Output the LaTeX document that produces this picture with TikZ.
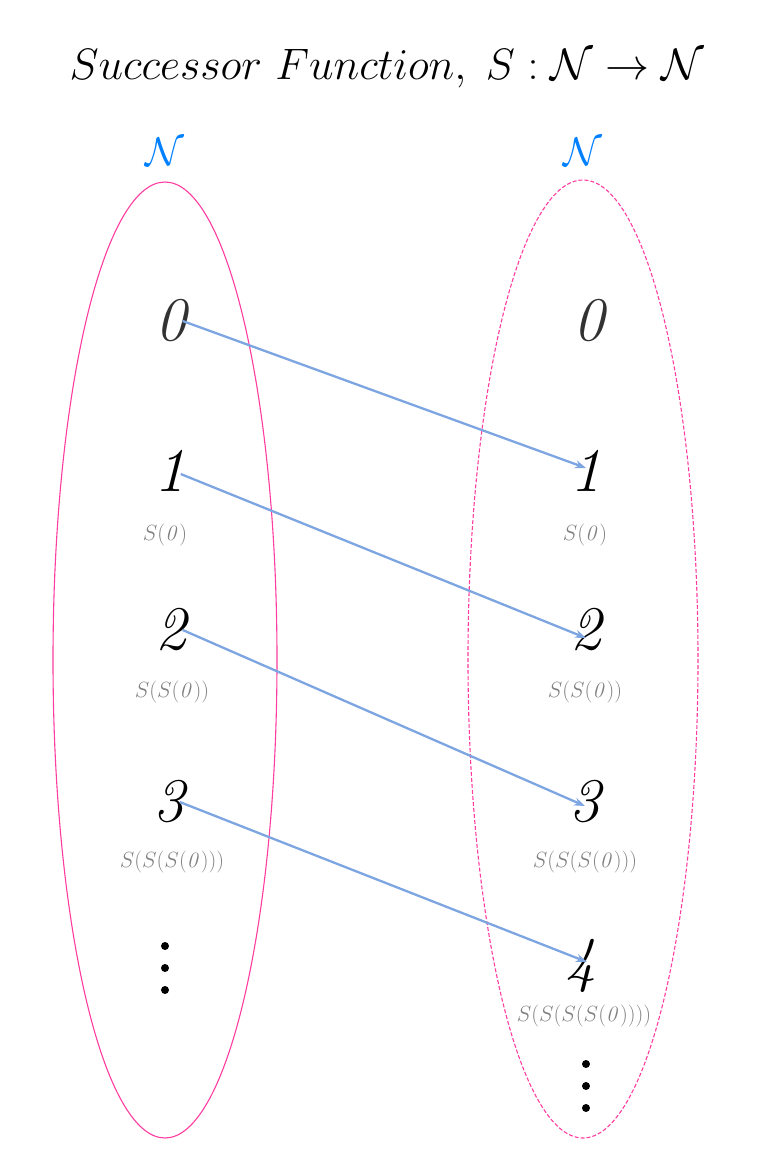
\RequirePackage{fix-cm}
\documentclass[tikz,border=0pt]{standalone}
\usetikzlibrary{arrows.meta}
\definecolor{pinkline}{RGB}{255,60,160}
\definecolor{arrowblue}{RGB}{125,165,225}
\definecolor{setblue}{RGB}{0,128,255}
\definecolor{labelgray}{RGB}{128,128,128}
\definecolor{zerogray}{RGB}{50,50,50}
\begin{document}
\begin{tikzpicture}[x=1pt,y=-1pt,
  num/.style={inner sep=0pt,font=\fontsize{62}{62}\selectfont\itshape},
  lbl/.style={inner sep=0pt,text=labelgray,font=\fontsize{22}{22}\selectfont},
  setname/.style={inner sep=0pt,text=setblue,font=\fontsize{40}{40}\selectfont},
  mapsto/.style={draw=arrowblue,line width=2.3pt,-{Stealth[length=11pt,width=8pt]}},
  dotmark/.style={fill=black,circle,inner sep=0pt,minimum size=8pt}]
\useasboundingbox (0,0) rectangle (768,1176);
% title
\node[inner sep=0pt,font=\fontsize{44}{44}\selectfont] (title) at (387,69) {$Successor\ Function,\;S:\mathcal{N}\to\mathcal{N}$};
% set names
\node[setname] (nl) at (165,152) {$\mathcal{N}$};
\node[setname] (nr) at (583,152) {$\mathcal{N}$};
% ellipses
\draw[pinkline,line width=1.1pt] (165,660) ellipse [x radius=112, y radius=478];
\draw[pinkline,line width=1.1pt,dash pattern=on 4pt off 2pt] (583,659) ellipse [x radius=115, y radius=479];
% left numbers
\node[num,text=zerogray] (l0) at (171,321) {0};
\node[num] (l1) at (170,471) {1};
\node[num] (l2) at (171,630) {2};
\node[num] (l3) at (169,802) {3};
\node[lbl] (ls1) at (165,535) {$S(\mathit{0})$};
\node[lbl] (ls2) at (172,692) {$S(S(\mathit{0}))$};
\node[lbl] (ls3) at (172,862) {$S(S(S(\mathit{0})))$};
\node[dotmark] (ld1) at (165,946) {};
\node[dotmark] (ld2) at (165,968) {};
\node[dotmark] (ld3) at (165,990) {};
% right numbers
\node[num,text=zerogray] (r0) at (589,321) {0};
\node[num] (r1) at (586,471) {1};
\node[num] (r2) at (586,630) {2};
\node[num] (r3) at (585,802) {3};
\node[num] (r4) at (581,966) {4};
\node[lbl] (rs1) at (585,535) {$S(\mathit{0})$};
\node[lbl] (rs2) at (585,692) {$S(S(\mathit{0}))$};
\node[lbl] (rs3) at (585,862) {$S(S(S(\mathit{0})))$};
\node[lbl] (rs4) at (584,1016) {$S(S(S(S(\mathit{0}))))$};
\node[dotmark] (rd1) at (586,1064) {};
\node[dotmark] (rd2) at (586,1086) {};
\node[dotmark] (rd3) at (586,1108) {};
% successor arrows
\draw[mapsto] ([xshift=-4pt]l0.east) -- ([yshift=3pt]r1.center);
\draw[mapsto] ([xshift=-5pt,yshift=-3pt]l1.east) -- ([yshift=-8pt]r2.center);
\draw[mapsto] ([xshift=-4pt]l2.east) -- ([yshift=-4pt]r3.center);
\draw[mapsto] ([xshift=-5pt]l3.east) -- ([xshift=6pt,yshift=4pt]r4.center);
\end{tikzpicture}
\end{document}
